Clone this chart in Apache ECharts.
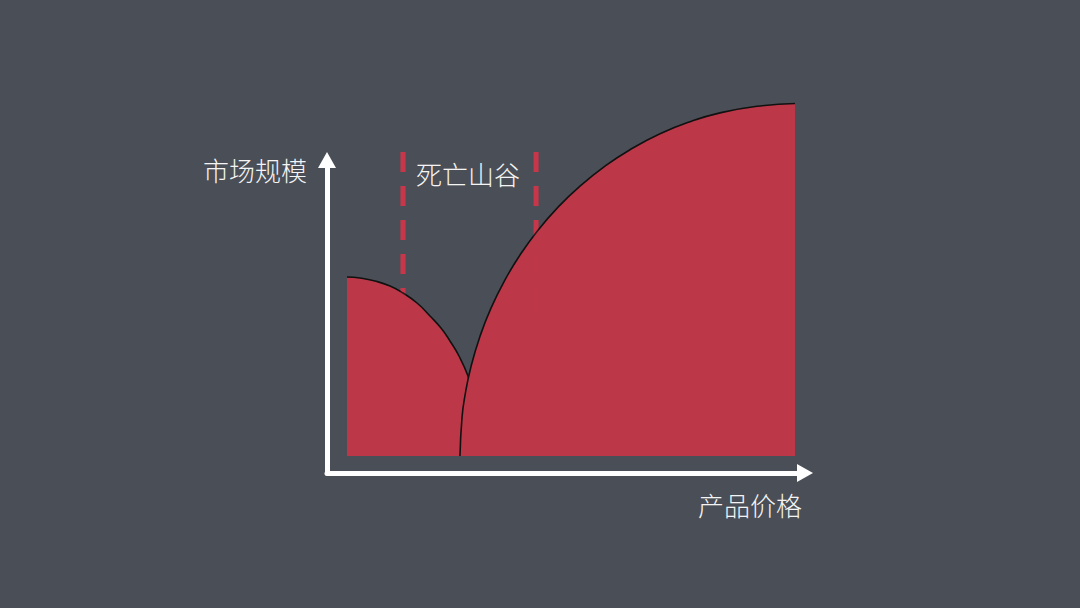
<!DOCTYPE html>
<html>
<head>
<meta charset="utf-8">
<script src="https://cdn.jsdelivr.net/npm/echarts@6/dist/echarts.min.js"></script>
<style>
html,body{margin:0;padding:0;background:#4a4e56;}
#c{width:1080px;height:608px;}
</style>
</head>
<body>
<div id="c"></div>
<script>
// Values (x: price, y: market size, 0-100 units)
const leftCurve = [[0,50.71],[2.90,50.42],[6.25,49.58],[9.60,48.16],[12.50,46.18],[15.63,43.34],[18.53,39.66],[20.98,36.26],[22.99,32.58],[25.00,28.33],[27.01,22.66],[28.35,17.00],[29.24,12.18],[29.91,6.23],[30.13,0]];
const rightCurve = [[25.22,0],[25.67,10.88],[26.34,17.17],[27.68,25.35],[29.69,33.94],[32.14,41.90],[35.27,49.92],[38.62,56.94],[42.63,63.97],[47.10,70.48],[52.01,76.46],[57.59,82.12],[63.17,86.77],[69.87,91.27],[76.56,94.70],[83.26,97.20],[91.52,99.07],[100,99.86]];
const valleyBounds = [12.5, 42.2];
const dashTop = 86.1;
const dashBottom = 41.4;
const yName = '市场规模';
const xName = '产品价格';
const valleyLabel = '死亡山谷';

const FILL = '#bc3849';
const DASH = '#c8364a';
const FONT = '"Noto Sans CJK SC", "Noto Sans", sans-serif';

const chart = echarts.init(document.getElementById('c'), null, {renderer:'svg'});

const dashSeries = [];
valleyBounds.forEach(function(x){
  dashSeries.push({
    type:'line', xAxisIndex:0, yAxisIndex:0, z:1, silent:true,
    data:[[x,dashTop],[x,dashBottom]], showSymbol:false,
    lineStyle:{color:DASH, width:5, type:[20,14], cap:'butt'}
  });
  dashSeries.push({
    type:'line', xAxisIndex:0, yAxisIndex:0, z:5, silent:true,
    data:[[x,dashTop],[x,dashBottom]], showSymbol:false,
    lineStyle:{color:DASH, width:5, type:[20,14], cap:'butt', opacity:0.18}
  });
});

chart.setOption({
  backgroundColor:'#4a4e56',
  animation:false,
  grid:[
    {left:347, right:285, top:103, bottom:152},
    {left:327, right:275, top:160, bottom:135}
  ],
  xAxis:[
    {type:'value', gridIndex:0, min:0, max:100, show:false},
    {type:'value', gridIndex:1, min:0, max:1, axisLabel:{show:false}, axisTick:{show:false}, splitLine:{show:false},
     axisLine:{show:true, onZero:false, symbol:['none','triangle'], symbolSize:[18,16], lineStyle:{color:'#ffffff', width:5}}}
  ],
  yAxis:[
    {type:'value', gridIndex:0, min:0, max:100, show:false},
    {type:'value', gridIndex:1, min:0, max:1, axisLabel:{show:false}, axisTick:{show:false}, splitLine:{show:false},
     axisLine:{show:true, onZero:false, symbol:['none','triangle'], symbolSize:[18,16], lineStyle:{color:'#ffffff', width:5}}}
  ],
  series: dashSeries.concat([
    {type:'line', xAxisIndex:0, yAxisIndex:0, z:2, data:leftCurve, smooth:0.5, showSymbol:false,
     lineStyle:{color:'#111111', width:1.6}, areaStyle:{color:FILL, opacity:1}},
    {type:'line', xAxisIndex:0, yAxisIndex:0, z:3, data:rightCurve, smooth:0.5, showSymbol:false,
     lineStyle:{color:'#111111', width:1.6}, areaStyle:{color:FILL, opacity:1}}
  ]),
  graphic:[
    {type:'text', left:203, top:156, style:{text:yName, fill:'#f4f4f4', font:'300 26px ' + FONT}},
    {type:'text', left:698, top:491, style:{text:xName, fill:'#f4f4f4', font:'300 26px ' + FONT}},
    {type:'text', left:416, top:160, style:{text:valleyLabel, fill:'#f4f4f4', font:'300 26px ' + FONT}}
  ]
});
</script>
</body>
</html>
